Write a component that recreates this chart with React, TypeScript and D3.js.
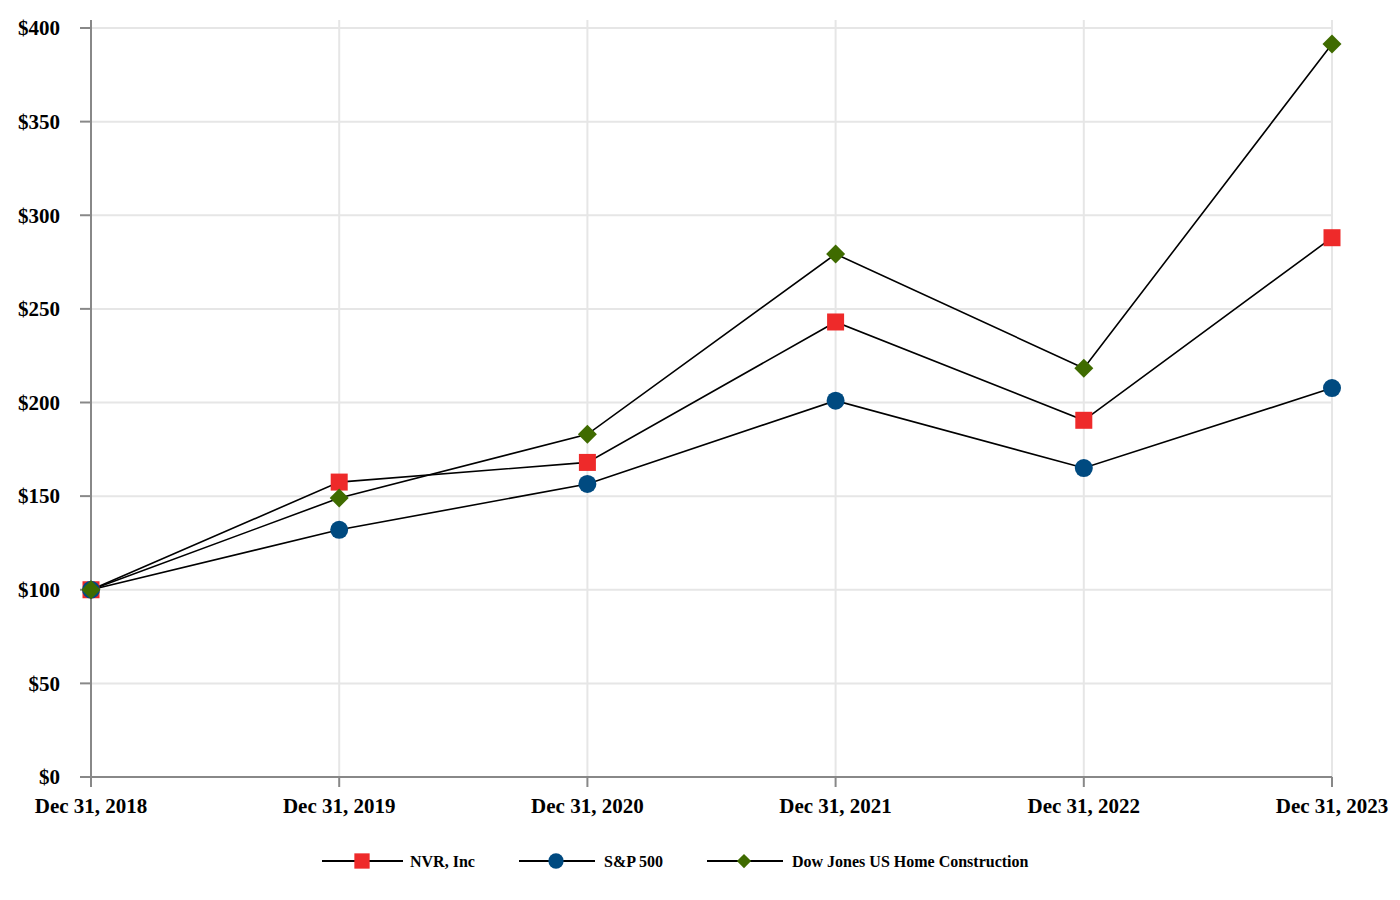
import React from "react";
import * as d3 from "d3";

const dates = ["Dec 31, 2018", "Dec 31, 2019", "Dec 31, 2020", "Dec 31, 2021", "Dec 31, 2022", "Dec 31, 2023"];
const nvr = [100, 157.5, 168, 243, 190.5, 288];
const sp500 = [100, 132, 156.5, 201, 165, 207.7];
const djHome = [100, 149, 183, 279.3, 218.3, 391.5];
const yTicks = [0, 50, 100, 150, 200, 250, 300, 350, 400];

const series = [
  { name: "NVR, Inc", values: nvr, color: "#ee2a2a", shape: "square" },
  { name: "S&P 500", values: sp500, color: "#004a80", shape: "circle" },
  { name: "Dow Jones US Home Construction", values: djHome, color: "#3f6b00", shape: "diamond" },
];

const FONT = "'Liberation Serif', 'Times New Roman', serif";

function Marker({ shape, x, y, color, s = 1 }: { shape: string; x: number; y: number; color: string; s?: number }) {
  if (shape === "square") return <rect x={x - 8.5 * s} y={y - 8.5 * s} width={17 * s} height={17 * s} fill={color} />;
  if (shape === "circle") return <circle cx={x} cy={y} r={9 * s} fill={color} />;
  const r = 9.5 * s;
  return <path d={`M${x},${y - r}L${x + r},${y}L${x},${y + r}L${x - r},${y}Z`} fill={color} />;
}

export default function App() {
  const W = 1400, H = 900;
  const x = d3.scalePoint<string>().domain(dates).range([91, 1332]);
  const y = d3.scaleLinear().domain([0, 400]).range([777, 28]);
  const line = d3.line<number>().x((_, i) => x(dates[i])!).y((v) => y(v));
  const legend = [
    { lx: 322, mx: 362, tx: 410, lw: 81 },
    { lx: 519, mx: 556, tx: 604, lw: 76 },
    { lx: 707, mx: 744, tx: 792, lw: 76 },
  ];
  return (
    <svg width={W} height={H} style={{ position: "absolute", left: 0, top: 0, background: "#fff" }} fontFamily={FONT}>
      {yTicks.map((t) => (
        <g key={t}>
          {t > 0 && <line x1={91} x2={1332} y1={y(t)} y2={y(t)} stroke="#e6e6e6" strokeWidth={2} />}
          <line x1={80} x2={91} y1={y(t)} y2={y(t)} stroke="#888" strokeWidth={2} />
          <text x={60} y={y(t)} dy="0.35em" textAnchor="end" fontSize={21} fontWeight="bold" fill="#000">
            ${t}
          </text>
        </g>
      ))}
      {dates.map((d, i) => (
        <g key={d}>
          {i > 0 && <line x1={x(d)} x2={x(d)} y1={20} y2={777} stroke="#e6e6e6" strokeWidth={2} />}
          <line x1={x(d)} x2={x(d)} y1={777} y2={787} stroke="#888" strokeWidth={2} />
          <text x={x(d)} y={813} textAnchor="middle" fontSize={21} fontWeight="bold" fill="#000">
            {d}
          </text>
        </g>
      ))}
      <line x1={91} x2={91} y1={20} y2={778} stroke="#888" strokeWidth={2} />
      <line x1={90} x2={1332} y1={777} y2={777} stroke="#888" strokeWidth={2} />
      {series.map((s) => (
        <path key={s.name} d={line(s.values) || ""} fill="none" stroke="#000" strokeWidth={1.6} />
      ))}
      {series.map((s) => (
        <g key={s.name + "m"}>
          {s.values.map((v, i) => (
            <Marker key={i} shape={s.shape} x={x(dates[i])!} y={y(v)} color={s.color} />
          ))}
        </g>
      ))}
      {series.map((s, i) => {
        const L = legend[i];
        return (
          <g key={s.name + "l"}>
            <line x1={L.lx} x2={L.lx + L.lw} y1={861} y2={861} stroke="#000" strokeWidth={2} />
            <Marker shape={s.shape} x={L.mx} y={861} color={s.color} s={s.shape === "circle" ? 0.85 : s.shape === "square" ? 0.9 : 0.75} />
            <text x={L.tx} y={861} dy="0.35em" fontSize={16} fontWeight="bold" fill="#000">
              {s.name}
            </text>
          </g>
        );
      })}
    </svg>
  );
}
